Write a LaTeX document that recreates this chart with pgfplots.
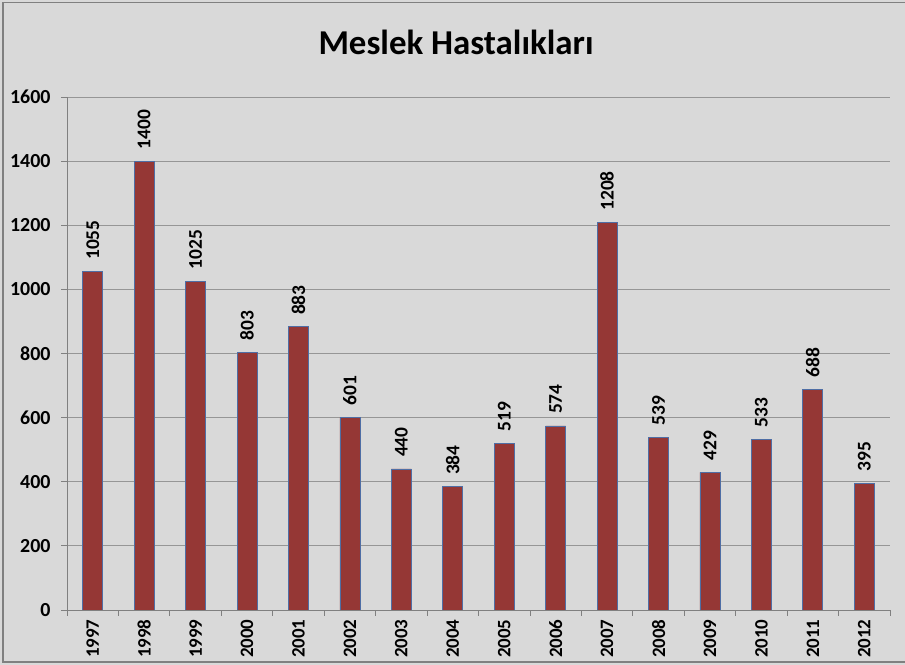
\documentclass[border=0pt]{standalone}
\usepackage{fontspec}
\setmainfont{Carlito}
\usepackage{pgfplots}
\pgfplotsset{compat=1.18}
\definecolor{bg}{RGB}{217,217,217}
\definecolor{barred}{RGB}{149,55,53}
\definecolor{baredge}{RGB}{79,110,165}
\definecolor{gridc}{RGB}{150,150,150}
\definecolor{framec}{RGB}{128,128,128}
\begin{document}
\begin{tikzpicture}[x=1bp,y=1bp]
\useasboundingbox (0,0) rectangle (905,665);
\fill[bg] (0,0) rectangle (905,665);
\draw[framec, line width=1.5bp] (906,662.5) -- (3,662.5) -- (3,3) -- (906,3);
\node[font=\bfseries\fontsize{35}{40}\selectfont] at (456,623) {Meslek Hastalıkları};
\begin{axis}[
  at={(67bp,55bp)}, anchor=south west,
  scale only axis, width=823bp, height=513bp,
  ybar, bar width=20bp,
  xmin=-0.5, xmax=15.5, ymin=0, ymax=1600,
  ytick={0,200,...,1600},
  xtick={0,...,15},
  xticklabels={1997,1998,1999,2000,2001,2002,2003,2004,2005,2006,2007,2008,2009,2010,2011,2012},
  minor xtick={-0.5,0.5,...,15.5},
  major x tick style={draw=none},
  tick align=outside,
  major tick length=6bp, minor tick length=6bp,
  tick style={framec, line width=0.8bp},
  axis x line*=bottom, axis y line*=left,
  axis line style={framec, line width=0.8bp},
  ymajorgrids, grid style={gridc, line width=0.8bp},
  /pgf/number format/.cd, 1000 sep={}, assume math mode=true, /pgfplots/.cd,
  ticklabel style={font=\bfseries\fontsize{20}{22}\selectfont},
  yticklabel style={xshift=-7bp},
  xticklabel style={rotate=90, anchor=east, font=\bfseries\fontsize{19}{22}\selectfont},
  nodes near coords,
  every node near coord/.append style={font=\bfseries\fontsize{19.5}{22}\selectfont, rotate=90, anchor=west, inner sep=0pt, outer xsep=12bp, black},
]
\addplot[fill=barred, draw=baredge, line width=0.8bp] coordinates {
(0,1055) (1,1400) (2,1025) (3,803) (4,883) (5,601) (6,440) (7,384)
(8,519) (9,574) (10,1208) (11,539) (12,429) (13,533) (14,688) (15,395)
};
\end{axis}
\end{tikzpicture}
\end{document}
